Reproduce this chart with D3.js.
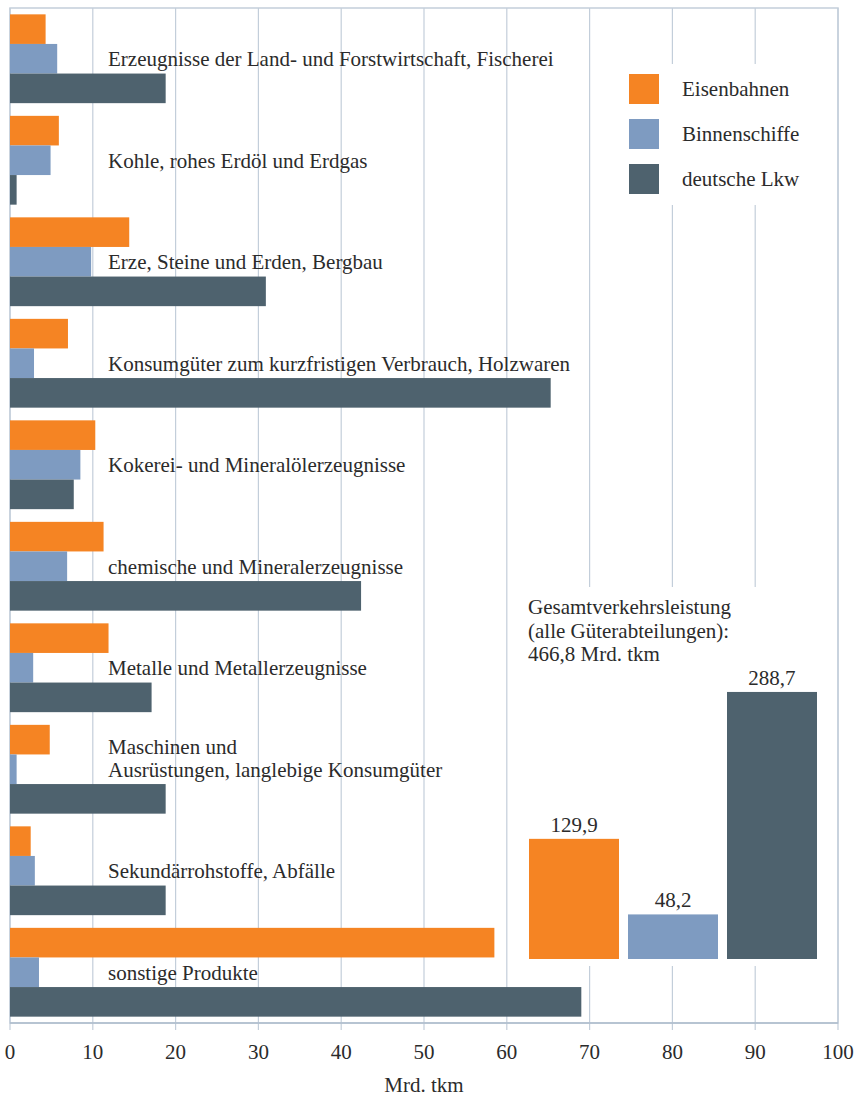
<!DOCTYPE html>
<html>
<head>
<meta charset="utf-8">
<script src="https://cdn.jsdelivr.net/npm/d3@7"></script>
<style>
  html, body { margin: 0; padding: 0; background: #ffffff; }
  svg { display: block; }
</style>
</head>
<body>
<svg id="chart" width="856" height="1098" font-family="Liberation Serif, Times New Roman, serif"></svg>
<script>
const categories = [
  "Erzeugnisse der Land- und Forstwirtschaft, Fischerei",
  "Kohle, rohes Erdöl und Erdgas",
  "Erze, Steine und Erden, Bergbau",
  "Konsumgüter zum kurzfristigen Verbrauch, Holzwaren",
  "Kokerei- und Mineralölerzeugnisse",
  "chemische und Mineralerzeugnisse",
  "Metalle und Metallerzeugnisse",
  "Maschinen und\nAusrüstungen, langlebige Konsumgüter",
  "Sekundärrohstoffe, Abfälle",
  "sonstige Produkte"
];
const seriesNames = ["Eisenbahnen", "Binnenschiffe", "deutsche Lkw"];
const eisenbahnen   = [4.3, 5.9, 14.4, 7.0, 10.3, 11.3, 11.9, 4.8, 2.5, 58.5];
const binnenschiffe = [5.7, 4.9, 9.8, 2.9, 8.5, 6.9, 2.8, 0.8, 3.0, 3.5];
const lkw           = [18.8, 0.8, 30.9, 65.3, 7.7, 42.4, 17.1, 18.8, 18.8, 69.0];
const totals = [129.9, 48.2, 288.7];
const totalLabels = ["129,9", "48,2", "288,7"];
const xTicks = [0, 10, 20, 30, 40, 50, 60, 70, 80, 90, 100];
const insetTitle = ["Gesamtverkehrsleistung", "(alle Güterabteilungen):", "466,8 Mrd. tkm"];
const xAxisTitle = "Mrd. tkm";

const colors = ["#f58423", "#7e9bc1", "#4e626e"];
const gridColor = "#c3ceda";
const fontSize = 21;
const fontFamily = "Liberation Serif, Times New Roman, serif";
const textColor = "#2b2b2b";

const svg = d3.select("#chart");
const pLeft = 10, pRight = 838, pTop = 8, pBottom = 1023;

function styleText(sel) {
  return sel.attr("font-family", fontFamily)
    .attr("font-size", fontSize)
    .style("font-family", '"Liberation Serif"')
    .attr("fill", textColor);
}

const x = d3.scaleLinear().domain([0, 100]).range([pLeft, pRight]);
const y = d3.scaleBand().domain(categories).range([pTop, pBottom]).paddingInner(0.125).paddingOuter(0.0625);
const ySub = d3.scaleBand().domain(seriesNames).range([0, y.bandwidth()]);

// gridlines
svg.append("g").selectAll("line").data(xTicks).join("line")
  .attr("x1", d => x(d)).attr("x2", d => x(d))
  .attr("y1", pTop).attr("y2", pBottom + 7)
  .attr("stroke", gridColor).attr("stroke-width", 1.2);

// frame
svg.append("rect").attr("x", pLeft).attr("y", pTop).attr("width", pRight - pLeft).attr("height", pBottom - pTop)
  .attr("fill", "none").attr("stroke", gridColor).attr("stroke-width", 1.5);

// axis baseline
svg.append("line").attr("x1", pLeft).attr("x2", pRight).attr("y1", pBottom).attr("y2", pBottom)
  .attr("stroke", "#aebdcc").attr("stroke-width", 1.5);

// bars
const seriesData = [eisenbahnen, binnenschiffe, lkw];
const groups = svg.append("g").selectAll("g").data(categories).join("g")
  .attr("transform", d => `translate(0,${y(d)})`);
groups.each(function(cat, i) {
  d3.select(this).selectAll("rect").data(seriesNames).join("rect")
    .attr("x", x(0))
    .attr("y", s => ySub(s))
    .attr("width", (s, j) => x(seriesData[j][i]) - x(0))
    .attr("height", ySub.bandwidth())
    .attr("fill", (s, j) => colors[j]);
});

// category labels
groups.each(function(cat) {
  const lines = cat.split("\n");
  const baseY = ySub(seriesNames[1]) + ySub.bandwidth() / 2 + 7.5;
  const t = styleText(d3.select(this).append("text").attr("x", 108));
  lines.forEach((ln, k) => {
    t.append("tspan").attr("x", 108)
      .attr("y", baseY - (lines.length - 1 - k) * 23)
      .text(ln);
  });
});

// legend background + legend
svg.append("rect").attr("x", 612).attr("y", 64).attr("width", 220).attr("height", 141).attr("fill", "#fff");
const legend = svg.append("g").selectAll("g").data(seriesNames).join("g")
  .attr("transform", (d, i) => `translate(629,${74 + i * 45})`);
legend.append("rect").attr("width", 30).attr("height", 30).attr("fill", (d, i) => colors[i]);
styleText(legend.append("text").attr("x", 53).attr("y", 22)).text(d => d);

// inset background
svg.append("rect").attr("x", 515).attr("y", 587).attr("width", 317).attr("height", 379).attr("fill", "#fff");

// inset title
styleText(svg.append("text"))
  .selectAll("tspan").data(insetTitle).join("tspan")
  .attr("x", 528).attr("y", (d, i) => 614 + i * 23.5).text(d => d);

// inset bars
const xi = d3.scaleBand().domain(seriesNames).range([529, 817]).paddingInner(0.0909);
const yi = d3.scaleLinear().domain([0, 300]).range([959, 681.5]);
svg.append("g").selectAll("rect").data(seriesNames).join("rect")
  .attr("x", d => xi(d)).attr("width", xi.bandwidth())
  .attr("y", (d, i) => yi(totals[i]))
  .attr("height", (d, i) => yi(0) - yi(totals[i]))
  .attr("fill", (d, i) => colors[i]);
styleText(svg.append("g").selectAll("text").data(seriesNames).join("text"))
  .attr("x", d => xi(d) + xi.bandwidth() / 2)
  .attr("y", (d, i) => yi(totals[i]) - 7)
  .attr("text-anchor", "middle")
  .text((d, i) => totalLabels[i]);

// x axis labels
styleText(svg.append("g").selectAll("text").data(xTicks).join("text"))
  .attr("x", d => x(d)).attr("y", 1059)
  .attr("text-anchor", "middle")
  .text(d => d);

styleText(svg.append("text")).attr("x", (pLeft + pRight) / 2).attr("y", 1092)
  .attr("text-anchor", "middle").text(xAxisTitle);
</script>
</body>
</html>
